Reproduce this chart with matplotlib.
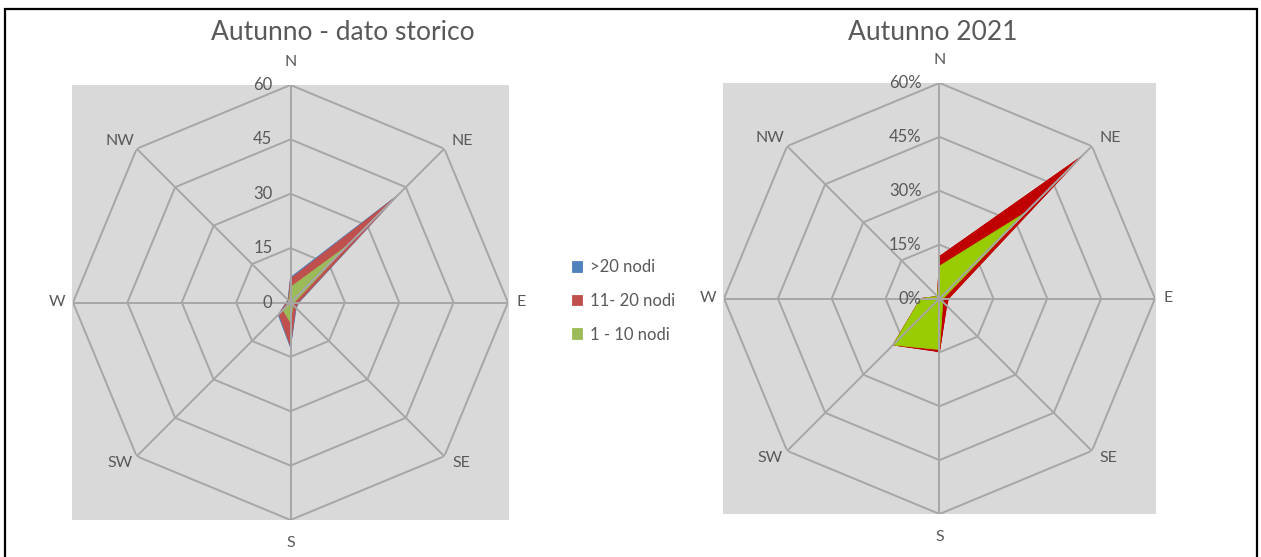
import numpy as np
import matplotlib.pyplot as plt
from matplotlib.patches import Rectangle

plt.rcParams['font.family'] = ['Lato', 'DejaVu Sans']

directions = ['N', 'NE', 'E', 'SE', 'S', 'SW', 'W', 'NW']
series_names = ['>20 nodi', '11- 20 nodi', '1 - 10 nodi']

# historical autumn (cumulative frequencies)
hist_over20 = [6.9, 42.0, 2.3, 2.2, 12.4, 4.8, 1.2, 1.0]
hist_11_20 = [6.5, 41.3, 2.1, 2.0, 11.9, 4.5, 1.0, 0.8]
hist_1_10 = [4.2, 22.0, 1.0, 1.0, 5.5, 2.9, 0.5, 0.5]
hist_ticks = [0, 15, 30, 45, 60]
hist_tick_labels = ['0', '15', '30', '45', '60']

# autumn 2021 (%)
y2021_over20 = [11.7, 55.9, 2.5, 2.8, 14.8, 18.3, 5.2, 0.8]
y2021_11_20 = [11.7, 55.9, 2.5, 2.8, 14.8, 18.3, 5.2, 0.8]
y2021_1_10 = [9.0, 33.7, 1.0, 1.3, 14.2, 18.3, 5.2, 0.8]
y2021_ticks = [0, 15, 30, 45, 60]
y2021_tick_labels = ['0%', '15%', '30%', '45%', '60%']

W, H = 1261, 557
text_col = '#595959'
grid_col = '#A6A6A6'
bg_col = '#D9D9D9'

# label offsets in pixels for each direction
lab_off = [(0, 23), (18, 8), (13, 0), (17, -7), (0, -23), (-17, -7), (-16, 0), (-17, 8)]

fig = plt.figure(figsize=(W / 100, H / 100), dpi=100)

def radar(box, series, colors, ticks, tick_labels, title, title_x):
    x0, y0, x1, y1 = box
    rect = [x0 / W, 1 - y1 / H, (x1 - x0) / W, (y1 - y0) / H]
    bg = fig.add_axes(rect)
    bg.set_facecolor(bg_col)
    bg.set_xticks([])
    bg.set_yticks([])
    for s in bg.spines.values():
        s.set_visible(False)

    ax = fig.add_axes(rect, projection='polar')
    ax.patch.set_alpha(0)
    ax.set_theta_zero_location('N')
    ax.set_theta_direction(-1)
    ax.grid(False)
    ax.set_xticks([])
    ax.set_yticks([])
    ax.spines['polar'].set_visible(False)
    ax.set_ylim(0, ticks[-1])

    theta = np.deg2rad(np.arange(len(directions)) * 45.0)
    tc = np.append(theta, theta[0])

    # octagon rings
    for r in ticks[1:]:
        ax.fill(tc, [r] * len(tc), facecolor='none', edgecolor=grid_col, lw=1.4, zorder=1)

    handles = []
    for vals, c in zip(series, colors):
        h = ax.fill(theta, vals, facecolor=c, edgecolor=c, lw=0.6, zorder=2)[0]
        handles.append(h)

    # spokes
    for t in theta:
        ax.plot([t, t], [0, ticks[-1]], color=grid_col, lw=1.4, zorder=3)

    for r, lab in zip(ticks, tick_labels):
        ax.annotate(lab, xy=(0, r), xytext=(-18, 0), textcoords='offset pixels',
                    ha='right', va='center', fontsize=12, color=text_col, zorder=4)

    for t, d, off in zip(theta, directions, lab_off):
        ax.annotate(d, xy=(t, ticks[-1]), xytext=off, textcoords='offset pixels',
                    ha='center', va='center', fontsize=11.5, color=text_col,
                    annotation_clip=False)

    fig.text(title_x / W, 1 - 33 / H, title, ha='center', va='center',
             fontsize=19, color=text_col)
    return handles

hist_handles = radar((72, 85, 509, 520), [hist_over20, hist_11_20, hist_1_10],
                     ['#4F81BD', '#C0504D', '#9BBB59'], hist_ticks, hist_tick_labels,
                     'Autunno - dato storico', 343)
radar((723, 83, 1156, 514), [y2021_over20, y2021_11_20, y2021_1_10],
      ['#C00000', '#C00000', '#99CC00'], y2021_ticks, y2021_tick_labels,
      'Autunno 2021', 933)

fig.legend(hist_handles, series_names, loc='center left',
           bbox_to_anchor=(572 / W, 1 - 301 / H), frameon=False,
           fontsize=12, labelcolor=text_col, handlelength=0.6, handleheight=0.6,
           handletextpad=0.45, labelspacing=1.05, borderpad=0, borderaxespad=0)

fig.add_artist(Rectangle((5 / W, -0.02), 1252 / W, (H - 9) / H + 0.02,
                         transform=fig.transFigure, fill=False, ec='black', lw=1.6))

fig.savefig('out.png', dpi=100)
